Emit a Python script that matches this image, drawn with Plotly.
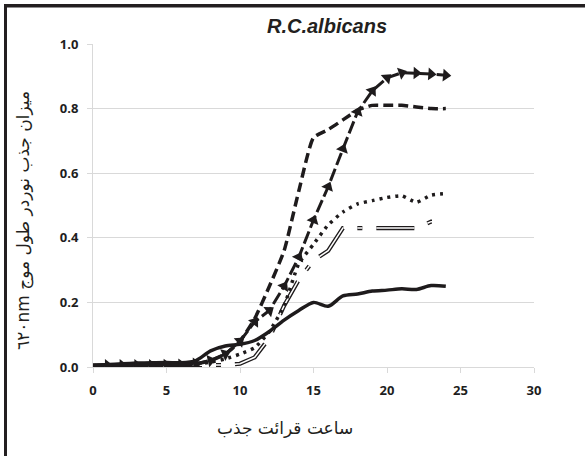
import plotly.graph_objects as go

hours = list(range(0, 25))

solid_vals = [0.005, 0.008, 0.010, 0.012, 0.013, 0.014, 0.013, 0.020, 0.050, 0.065,
              0.070, 0.082, 0.110, 0.145, 0.175, 0.200, 0.188, 0.220, 0.226, 0.235,
              0.238, 0.242, 0.240, 0.252, 0.250]
dashed_vals = [0.005, 0.005, 0.005, 0.005, 0.005, 0.006, 0.007, 0.010, 0.020, 0.040,
               0.080, 0.150, 0.250, 0.360, 0.545, 0.710, 0.735, 0.765, 0.795, 0.810,
               0.810, 0.810, 0.805, 0.800, 0.800]
arrow_vals = [0.005, 0.005, 0.005, 0.005, 0.005, 0.006, 0.007, 0.010, 0.020, 0.040,
              0.080, 0.140, 0.175, 0.250, 0.340, 0.455, 0.558, 0.675, 0.790, 0.855,
              0.895, 0.911, 0.910, 0.907, 0.903]
dotted_vals = [0.005, 0.005, 0.005, 0.005, 0.005, 0.005, 0.006, 0.008, 0.015, 0.025,
               0.040, 0.060, 0.110, 0.190, 0.320, 0.380, 0.440, 0.480, 0.505, 0.515,
               0.525, 0.530, 0.510, 0.532, 0.537]
double_vals = [0.004, 0.004, 0.004, 0.004, 0.004, 0.004, 0.004, 0.005, 0.005, 0.006,
               0.010, 0.030, 0.090, 0.190, 0.270, 0.330, 0.360, 0.430, 0.430, 0.430,
               0.430, 0.432, 0.430, 0.450, 0.450]

x_ticks = [0, 5, 10, 15, 20, 25, 30]
y_ticks = [0.0, 0.2, 0.4, 0.6, 0.8, 1.0]
y_tick_text = ["0.0", "0.2", "0.4", "0.6", "0.8", "1.0"]

title_text = "R.C.albicans"
x_title = "ساعت قرائت جذب"
y_title = "\u2067میزان جذب نوردر طول موج \u2066٦٢٠nm\u2069\u2069"

INK = "#1e1b1c"
FRAME = "#231f20"

fig = go.Figure()

fig.add_trace(go.Scatter(x=hours, y=double_vals, mode="lines",
                         line=dict(color=INK, width=4.2, dash="38px,14px,5px,14px"),
                         hoverinfo="skip", showlegend=False))
fig.add_trace(go.Scatter(x=hours, y=double_vals, mode="lines",
                         line=dict(color="white", width=1.5, dash="38px,14px,5px,14px"),
                         hoverinfo="skip", showlegend=False))
fig.add_trace(go.Scatter(x=hours, y=dotted_vals, mode="lines",
                         line=dict(color=INK, width=3.5, dash="3px,5px", shape="spline", smoothing=0.5),
                         showlegend=False))
fig.add_trace(go.Scatter(x=hours, y=solid_vals, mode="lines",
                         line=dict(color=INK, width=3.5, shape="spline", smoothing=0.8),
                         showlegend=False))
fig.add_trace(go.Scatter(x=hours, y=dashed_vals, mode="lines",
                         line=dict(color=INK, width=3.5, dash="10px,5px", shape="spline", smoothing=0.5),
                         showlegend=False))
fig.add_trace(go.Scatter(x=hours, y=arrow_vals, mode="lines+markers",
                         line=dict(color=INK, width=3, dash="13px,4px"),
                         marker=dict(symbol="triangle-up", size=11, color=INK,
                                     angleref="previous", line=dict(width=0)),
                         showlegend=False))

L, R, T, B = 93, 51, 44, 89
W, H = 585, 456
pw, ph = W - L - R, H - T - B

def px_x(p):
    return (p - L) / pw

def px_y(p):
    return (H - B - p) / ph

shapes = [
    dict(type="rect", xref="paper", yref="paper",
         x0=px_x(4), x1=px_x(585), y0=px_y(7.5), y1=px_y(4),
         fillcolor=FRAME, line=dict(width=0), layer="above"),
    dict(type="rect", xref="paper", yref="paper",
         x0=px_x(4), x1=px_x(7), y0=px_y(456), y1=px_y(4),
         fillcolor=FRAME, line=dict(width=0), layer="above"),
]

fig.update_layout(
    width=W, height=H,
    margin=dict(l=L, r=R, t=T, b=B),
    paper_bgcolor="white", plot_bgcolor="white",
    xaxis=dict(range=[0, 30], tickvals=x_ticks, showgrid=False,
               showline=True, linecolor="#d9d9d9", linewidth=1,
               ticks="outside", ticklen=5, tickcolor="#d9d9d9",
               tickfont=dict(family="Open Sans", size=13, color="#1e1e1e", weight="bold"),
               ticklabelstandoff=6, zeroline=False),
    yaxis=dict(range=[0, 1.0], tickvals=y_ticks, ticktext=y_tick_text,
               showgrid=True, gridcolor="#d9d9d9", gridwidth=1,
               showline=True, linecolor="#d9d9d9", linewidth=1,
               ticks="outside", ticklen=5, tickcolor="#d9d9d9",
               tickfont=dict(family="Open Sans", size=13, color="#1e1e1e", weight="bold"),
               ticklabelstandoff=6, zeroline=False),
    annotations=[
        dict(text=title_text, xref="paper", yref="paper", x=px_x(327), y=px_y(26),
             xanchor="center", yanchor="middle", showarrow=False,
             font=dict(family="Liberation Sans", size=20, color=FRAME,
                       weight="bold", style="italic")),
        dict(text=x_title, xref="paper", yref="paper", x=px_x(285), y=px_y(428),
             xanchor="center", yanchor="middle", showarrow=False,
             font=dict(family="DejaVu Sans", size=17, color=FRAME)),
        dict(text=y_title, xref="paper", yref="paper", x=px_x(23), y=px_y(221),
             xanchor="center", yanchor="middle", showarrow=False, textangle=-90,
             font=dict(family="DejaVu Sans", size=17, color=FRAME)),
        # top frame bar drawn as a filled annotation box as well
        dict(text=" ", xref="paper", yref="paper", x=px_x(4), y=px_y(4),
             xanchor="left", yanchor="top", showarrow=False,
             width=581, height=3, bgcolor=FRAME, borderpad=0, borderwidth=0,
             font=dict(size=2, color=FRAME)),
    ],
    shapes=shapes,
)

fig.write_html("out.html", config={"displayModeBar": False},
               post_script="document.body.style.margin='0px';")
